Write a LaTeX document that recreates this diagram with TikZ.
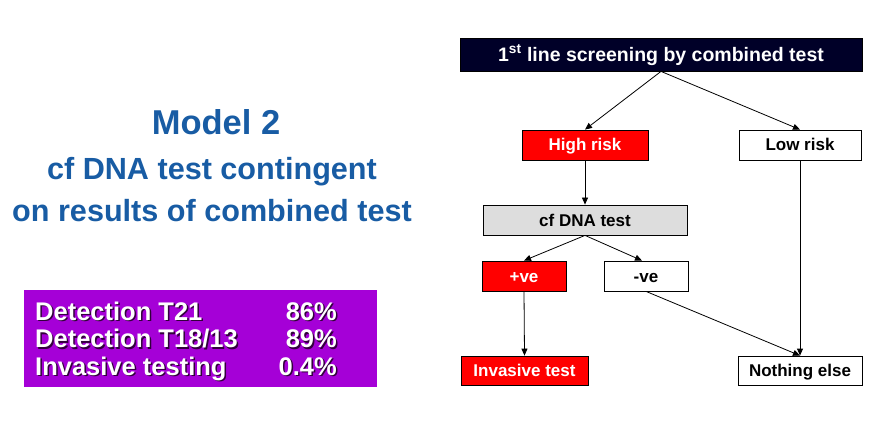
\documentclass[tikz,border=0pt]{standalone}
\usepackage{fontspec}
\setmainfont{Liberation Sans}
\usetikzlibrary{arrows.meta}
\definecolor{navy}{RGB}{0,0,40}
\definecolor{riskred}{RGB}{255,0,0}
\definecolor{dnagray}{RGB}{221,221,221}
\definecolor{titleblue}{RGB}{24,92,164}
\definecolor{statpurple}{RGB}{165,0,215}
\definecolor{shade}{RGB}{50,0,60}
\newcommand\shadowed[1]{\rlap{\kern1.5pt\raisebox{-1.5pt}{\color{shade}#1}}#1}

\begin{document}
\begin{tikzpicture}[x=1pt, y=-1pt, every node/.style={font=\bfseries}]
\tikzstyle{box}=[draw=black, line width=0.8pt, minimum height=30pt, inner sep=0pt, text height=12pt, text depth=0pt, font=\fontsize{17}{20}\selectfont\bfseries]
\tikzstyle{redbox}=[box, fill=riskred, text=white]
\tikzstyle{conn}=[-{Triangle[length=7pt,width=6pt]}, line width=0.8pt]
\tikzstyle{heading}=[text=titleblue, anchor=base, inner sep=0pt]
\tikzstyle{stat}=[text=white, inner sep=0pt, font=\fontsize{25.5}{28}\selectfont\bfseries]
\useasboundingbox (0,0) rectangle (869,430);
% left side
\node[heading, font=\fontsize{34.5}{38}\selectfont\bfseries] (model) at (216,135) {Model 2};
\node[heading, font=\fontsize{30.6}{33}\selectfont\bfseries] (sub1) at (212,180) {cf DNA test contingent};
\node[heading, font=\fontsize{30.6}{33}\selectfont\bfseries] (sub2) at (212,222) {on results of combined test};
\node[fill=statpurple, minimum width=353pt, minimum height=97pt, inner sep=0pt] (stats) at (200.5,338.5) {};
\node[stat, anchor=base west] (t21) at (35,320) {\shadowed{Detection T21}};
\node[stat, anchor=base west] (t18) at (35,347.5) {\shadowed{Detection T18/13}};
\node[stat, anchor=base west] (inv) at (35,375) {\shadowed{Invasive testing}};
\node[stat, anchor=base east] (t21v) at (337,320) {\shadowed{86\%}};
\node[stat, anchor=base east] (t18v) at (337,347.5) {\shadowed{89\%}};
\node[stat, anchor=base east] (invv) at (337,375) {\shadowed{0.4\%}};
% flow chart
\node[box, fill=navy, text=white, minimum width=402pt, minimum height=33pt, text height=14pt, font=\fontsize{19.5}{22}\selectfont\bfseries] (screen) at (661,54.5) {1\textsuperscript{st} line screening by combined test};
\node[redbox, minimum width=126pt] (high) at (585,145) {High risk};
\node[box, fill=white, minimum width=122pt] (low) at (800,145) {Low risk};
\node[box, fill=dnagray, minimum width=204pt] (dna) at (585,220) {cf DNA test};
\node[redbox, minimum width=84pt] (pos) at (524,276) {+ve};
\node[box, fill=white, minimum width=84pt] (neg) at (646,276) {-ve};
\node[redbox, minimum width=127pt, minimum height=29pt] (invasive) at (524.5,370.5) {Invasive test};
\node[box, fill=white, minimum width=124pt, minimum height=29pt] (nothing) at (800,370.5) {Nothing else};
\draw[conn] (screen.south) -- (high.north);
\draw[conn] (screen.south) -- (low.north);
\draw[conn] (high.south) -- (dna.north);
\draw[conn] (dna.south) -- (pos.north);
\draw[conn] (dna.south) -- ([xshift=-4pt]neg.north);
\draw[conn] (pos.south) -- (invasive.north);
\draw[conn] (neg.south) -- (nothing.north);
\draw[conn] (low.south) -- (nothing.north);
\end{tikzpicture}
\end{document}
